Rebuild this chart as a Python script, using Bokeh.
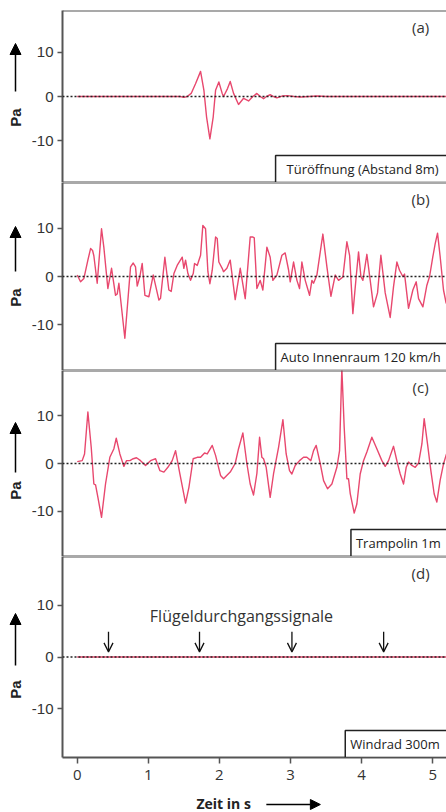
import math
from bokeh.plotting import figure
from bokeh.layouts import column, row
from bokeh.models import (Range1d, FixedTicker, Span, Label, BoxAnnotation,
                          Arrow, NormalHead, OpenHead)
from bokeh.embed import file_html
from bokeh.resources import INLINE

# ---------------- data ----------------
t_a = [0.00, 1.45, 1.50, 1.547, 1.603, 1.664, 1.735, 1.782, 1.819, 1.866, 1.913,
       1.946, 1.992, 2.039, 2.058, 2.114, 2.152, 2.199, 2.269, 2.340, 2.410, 2.470,
       2.527, 2.575, 2.621, 2.670, 2.714, 2.760, 2.808, 2.880, 2.954, 3.05, 3.141,
       3.26, 3.376, 3.50, 3.61, 5.20]
p_a = [0.0, 0.0, -0.2, 0.0, 0.7, 2.9, 5.7, 1.4, -4.6, -9.6, -4.6,
       1.4, 3.3, 0.7, 0.0, 1.8, 3.4, 0.7, -1.8, -0.4, -1.0, 0.0,
       0.7, 0.0, -0.5, 0.1, 0.4, 0.0, -0.3, 0.1, 0.2, 0.0, -0.1,
       0.0, 0.1, 0.0, 0.0, 0.0]

t_b = [0.00, 0.047, 0.094, 0.15, 0.188, 0.216, 0.234, 0.281, 0.342, 0.375, 0.431,
       0.483, 0.539, 0.563, 0.586, 0.670, 0.750, 0.788, 0.820, 0.844, 0.881, 0.914,
       0.952, 1.008, 1.069, 1.149, 1.172, 1.233, 1.289, 1.322, 1.360, 1.406, 1.477,
       1.500, 1.524, 1.557, 1.594, 1.632, 1.650, 1.688, 1.735, 1.767, 1.805, 1.838,
       1.866, 1.899, 1.946, 1.969, 1.992, 2.039, 2.058, 2.105, 2.152, 2.222, 2.293,
       2.363, 2.433, 2.471, 2.490, 2.527, 2.574, 2.611, 2.668, 2.714, 2.752, 2.808,
       2.879, 2.925, 2.972, 2.996, 3.043, 3.090, 3.127, 3.160, 3.207, 3.268, 3.301,
       3.324, 3.371, 3.455, 3.512, 3.568, 3.629, 3.676, 3.737, 3.793, 3.831, 3.877,
       3.924, 3.957, 3.990, 4.018, 4.074, 4.121, 4.168, 4.224, 4.271, 4.332, 4.402,
       4.449, 4.496, 4.533, 4.580, 4.604, 4.660, 4.721, 4.768, 4.801, 4.862, 4.918,
       4.956, 5.002, 5.035, 5.068, 5.105, 5.152, 5.190]
p_b = [0.3, -1.1, -0.4, 3.4, 5.8, 5.4, 4.3, -1.4, 9.9, 6.0, -2.5,
       1.7, -3.9, -3.6, -1.4, -12.8, 2.0, 2.8, 2.0, -2.0, 0.0, 2.7,
       -3.9, -4.2, 0.3, -4.9, -4.5, 4.0, -2.8, -3.1, 0.6, 2.3, 4.0,
       1.7, 3.4, 0.6, -0.8, 0.6, 2.7, 2.3, 4.4, 10.6, 9.9, 1.0,
       -1.5, 1.3, 8.2, 7.9, 3.0, 1.7, 1.0, 1.7, 3.4, -4.8, 1.7,
       -4.6, 8.2, 8.2, 8.0, -2.5, -0.8, -2.8, 6.1, 4.0, -0.8, 0.3,
       4.4, 4.9, 1.4, -1.1, 3.0, -0.8, -2.5, 3.0, -0.8, -3.9, -0.8,
       -1.4, 0.3, 8.8, 2.0, -4.1, 0.3, -0.8, -0.1, 7.2, 4.4, -7.7,
       0.0, 5.1, 0.0, -0.8, 4.6, -0.8, -6.3, -3.4, 4.4, -3.4, -8.5,
       -2.1, 3.0, 1.3, 0.0, 0.5, -6.6, -2.8, -1.1, -4.6, -6.3, -1.8,
       0.0, 4.1, 6.8, 9.0, 4.1, -2.8, -5.6]

t_c = [0.00, 0.07, 0.103, 0.150, 0.197, 0.234, 0.258, 0.291, 0.342, 0.398, 0.459,
       0.516, 0.549, 0.600, 0.656, 0.694, 0.741, 0.788, 0.834, 0.891, 0.961, 1.031,
       1.102, 1.163, 1.219, 1.275, 1.336, 1.383, 1.444, 1.524, 1.571, 1.631, 1.688,
       1.735, 1.791, 1.829, 1.899, 1.946, 2.016, 2.058, 2.152, 2.222, 2.269, 2.330,
       2.386, 2.433, 2.480, 2.527, 2.565, 2.597, 2.621, 2.658, 2.714, 2.761, 2.832,
       2.893, 2.939, 2.986, 3.019, 3.066, 3.127, 3.183, 3.230, 3.286, 3.324, 3.361,
       3.418, 3.465, 3.521, 3.582, 3.652, 3.690, 3.722, 3.755, 3.793, 3.816, 3.840,
       3.896, 3.933, 3.980, 4.027, 4.074, 4.144, 4.205, 4.285, 4.332, 4.379, 4.449,
       4.505, 4.543, 4.590, 4.627, 4.660, 4.707, 4.754, 4.801, 4.848, 4.880, 4.927,
       4.974, 5.021, 5.058, 5.105, 5.152, 5.194]
p_c = [0.4, 0.6, 2.0, 10.8, 3.4, -4.3, -4.5, -7.1, -11.3, -4.3, 1.3,
       3.1, 5.3, 2.0, -0.6, 0.6, 0.6, 1.0, 1.2, 0.6, -0.4, 0.6,
       1.0, -1.5, -1.8, -0.8, 0.6, 2.7, -2.2, -8.3, -5.0, 1.0, 1.3,
       1.3, 2.2, 2.0, 3.8, 1.7, -2.5, -3.2, -1.8, 0.0, 3.1, 6.4,
       0.0, -4.3, -6.6, -2.1, 5.5, 1.3, 1.0, -0.8, -7.1, -2.2, 3.4,
       9.2, 2.0, -1.5, -2.2, -0.4, 0.6, 1.3, 1.3, 0.6, 2.7, 3.8,
       0.0, -3.6, -5.3, -4.3, -0.8, 2.7, 20.0, 7.6, -3.2, -3.2, -6.3,
       -10.4, -8.5, -2.2, 0.6, 2.4, 5.5, 3.4, 0.6, -0.6, 0.6, 3.6,
       0.0, -2.2, -4.3, -0.8, 0.3, -0.4, -0.8, 0.1, 4.1, 9.4, 4.1,
       -1.5, -6.4, -8.1, -3.5, -0.1, 2.0]

t_d = [0.00, 1.00, 2.00, 3.00, 4.00, 5.20]
p_d = [0.0, 0.0, 0.0, 0.0, 0.0, 0.0]

x_ticks = [0, 1, 2, 3, 4, 5]
x_tick_labels = ["0", "1", "2", "3", "4", "5"]
y_ticks = [-10, 0, 10]
y_tick_labels = ["-10", "0", "10"]
panel_letters = ["(a)", "(b)", "(c)", "(d)"]
captions = ["Türöffnung (Abstand 8m)", "Auto Innenraum 120 km/h",
            "Trampolin 1m", "Windrad 300m"]
caption_left = [2.79, 2.79, 3.85, 3.77]
wing_times = [0.44, 1.72, 3.02, 4.31]
wing_label = "Flügeldurchgangssignale"
x_label = "Zeit in s"
y_label = "Pa"

# ---------------- layout / style ----------------
X0, X1 = -0.207, 5.194
Y0, Y1 = -19.5, 19.5
RED = "#e8486e"
AX = "#555555"
TXT = "#333333"
TOTAL_W, TOTAL_H = 446, 812
STRIP_W = 26
W = TOTAL_W - STRIP_W
LEFT = 36
PX_PER_S = (W - LEFT) / (X1 - X0)

frame_heights = [172, 188, 186, 201]
top_borders = [10, 0, 0, 0]
bottom_borders = [0, 0, 0, 34]
cap_pad_px = [11, 5, 5, 5]
series = [(t_a, p_a), (t_b, p_b), (t_c, p_c), (t_d, p_d)]

figs = []
for i in range(4):
    fh = frame_heights[i]
    sc = fh / (Y1 - Y0)
    last = (i == 3)
    p = figure(width=W, height=fh + top_borders[i] + bottom_borders[i],
               x_range=Range1d(X0, X1), y_range=Range1d(Y0, Y1),
               output_backend="svg", toolbar_location=None,
               min_border_left=LEFT, min_border_right=0,
               min_border_top=top_borders[i], min_border_bottom=bottom_borders[i],
               x_axis_location="below" if last else None)
    p.outline_line_color = None
    p.background_fill_color = "white"
    p.border_fill_color = "white"
    p.xgrid.visible = False
    p.ygrid.visible = False

    ya = p.yaxis[0]
    ya.ticker = FixedTicker(ticks=y_ticks)
    ya.major_label_overrides = dict(zip(y_ticks, y_tick_labels))
    ya.axis_line_color = AX
    ya.axis_line_width = 2
    ya.major_tick_line_color = AX
    ya.major_tick_line_width = 1.5
    ya.major_tick_out = 5
    ya.major_tick_in = 0
    ya.minor_tick_line_color = None
    ya.major_label_text_font = "Liberation Sans"
    ya.major_label_text_font_size = "15px"
    ya.major_label_text_color = TXT
    ya.major_label_standoff = 4

    if last:
        xa = p.xaxis[0]
        xa.ticker = FixedTicker(ticks=x_ticks)
        xa.major_label_overrides = dict(zip(x_ticks, x_tick_labels))
        xa.axis_line_color = AX
        xa.axis_line_width = 2
        xa.major_tick_line_color = AX
        xa.major_tick_line_width = 1.5
        xa.major_tick_out = 6
        xa.major_tick_in = 0
        xa.minor_tick_line_color = None
        xa.major_label_text_font = "Open Sans"
        xa.major_label_text_font_size = "15px"
        xa.major_label_text_color = TXT
        xa.major_label_standoff = 6

    t, v = series[i]
    p.line(t, v, line_color=RED, line_width=1.4, line_join="round")

    p.add_layout(Span(location=0, dimension="width", line_color="#222222",
                      line_width=1.5, line_dash="2 2"))
    p.add_layout(Span(location=Y1, dimension="width", line_color=AX, line_width=2))
    if not last:
        p.add_layout(Span(location=Y0, dimension="width", line_color=AX, line_width=2))

    # caption box
    box_top = Y0 + 27 / sc
    p.add_layout(BoxAnnotation(left=caption_left[i], right=X1 + 0.5, bottom=Y0, top=box_top,
                               fill_color="white", fill_alpha=1.0,
                               line_color="#222222", line_width=1.5, line_alpha=1.0))
    p.add_layout(Label(x=caption_left[i] + cap_pad_px[i] / PX_PER_S, y=(Y0 + box_top) / 2,
                       text=captions[i], text_baseline="middle", text_align="left",
                       text_font="Open Sans", text_font_size="13px",
                       text_color="#222222"))

    # panel letter
    p.add_layout(Label(x=4.83, y=Y1 - 16 / sc, text=panel_letters[i],
                       text_align="center", text_baseline="middle",
                       text_font="Open Sans", text_font_size="15px",
                       text_color=TXT))

    if last:
        for wt in wing_times:
            p.add_layout(Arrow(x_start=wt, y_start=4.9, x_end=wt, y_end=1.0,
                               line_color="#111111", line_width=1.3,
                               end=OpenHead(size=9, line_color="#111111", line_width=1.3)))
        p.add_layout(Label(x=2.31, y=7.96, text=wing_label, text_align="center",
                           text_baseline="middle", text_font="Open Sans",
                           text_font_size="16px", text_color=TXT))
    figs.append(p)

# bottom strip holding the x-axis title and its arrow (same x scale)
used_h = sum(frame_heights) + sum(top_borders) + sum(bottom_borders)
bot_h = TOTAL_H - used_h
bot = figure(width=W, height=bot_h, x_range=figs[-1].x_range, y_range=Range1d(bot_h, 0),
             output_backend="svg", toolbar_location=None,
             min_border_left=LEFT, min_border_right=0, min_border_top=0, min_border_bottom=0,
             x_axis_location=None, y_axis_location=None)
bot.outline_line_color = None
bot.xgrid.visible = False
bot.ygrid.visible = False
bot.add_layout(Label(x=2.06, y=12, text=x_label, text_align="center",
                     text_baseline="middle", text_font="Open Sans",
                     text_font_style="bold", text_font_size="14px",
                     text_color="#222222"))
bot.add_layout(Arrow(x_start=2.66, y_start=13, x_end=3.42, y_end=13,
                     line_color="black", line_width=1.5,
                     end=NormalHead(size=10, fill_color="black", line_color="black")))

# left strip holding the rotated "Pa" titles and their arrows (page pixel units)
strip = figure(width=STRIP_W, height=TOTAL_H, x_range=Range1d(0, STRIP_W),
               y_range=Range1d(TOTAL_H, 0), output_backend="svg", toolbar_location=None,
               min_border=0, x_axis_location=None, y_axis_location=None)
strip.outline_line_color = None
strip.xgrid.visible = False
strip.ygrid.visible = False
pa_tail = [91, 271, 472, 665]
pa_head = [43, 226, 422, 613]
pa_text = [117, 297, 490, 689]
for i in range(4):
    strip.add_layout(Arrow(x_start=15, y_start=pa_tail[i], x_end=15, y_end=pa_head[i],
                           line_color="black", line_width=1.5,
                           end=NormalHead(size=11, fill_color="black", line_color="black")))
    strip.add_layout(Label(x=15, y=pa_text[i], text=y_label, angle=math.pi / 2,
                           text_align="center", text_baseline="middle",
                           text_font="Liberation Sans", text_font_style="bold",
                           text_font_size="15px", text_color="#222222"))

layout = row(strip, column(*figs, bot, spacing=0), spacing=0)
open("out.html", "w").write(file_html(layout, INLINE))
